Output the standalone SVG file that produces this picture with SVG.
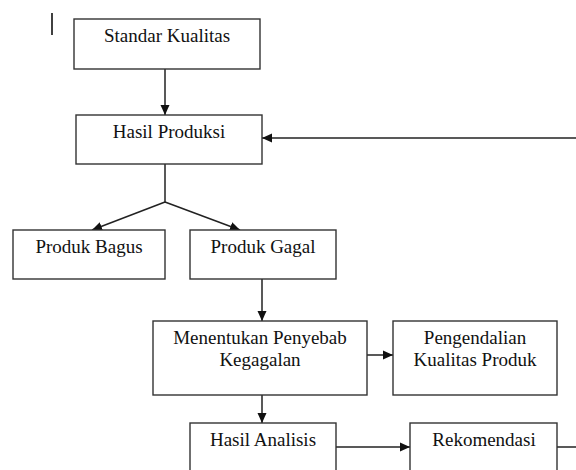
<svg xmlns="http://www.w3.org/2000/svg" width="576" height="470" viewBox="0 0 576 470">
<style>
.box{fill:#fff;stroke:#333;stroke-width:1.4}
.t{font-family:"Liberation Serif","Times New Roman",serif;font-size:19px;fill:#111;text-anchor:middle}
.c{fill:none;stroke:#222;stroke-width:1.5}
</style>
<defs>
<marker id="ah" markerUnits="userSpaceOnUse" markerWidth="10" markerHeight="10" refX="10" refY="5" orient="auto">
<path d="M0,0.5 L10,5 L0,9.5 z" fill="#111"/>
</marker>
</defs>
<rect width="576" height="470" fill="#fff"/>
<line x1="52" y1="13" x2="52" y2="35" stroke="#111" stroke-width="1.6"/>
<g id="connectors">
<line class="c" x1="165" y1="69" x2="165" y2="115" marker-end="url(#ah)"/>
<line class="c" x1="576" y1="138" x2="262" y2="138" marker-end="url(#ah)"/>
<polyline class="c" points="165,164 165,202"/>
<line class="c" x1="165" y1="202" x2="92" y2="230" marker-end="url(#ah)"/>
<line class="c" x1="165" y1="202" x2="240" y2="230" marker-end="url(#ah)"/>
<line class="c" x1="262" y1="279" x2="262" y2="321" marker-end="url(#ah)"/>
<line class="c" x1="367" y1="355" x2="393" y2="355" marker-end="url(#ah)"/>
<line class="c" x1="262" y1="395" x2="262" y2="423" marker-end="url(#ah)"/>
<line class="c" x1="336" y1="447" x2="410" y2="447" marker-end="url(#ah)"/>
<line class="c" x1="557" y1="447" x2="576" y2="447"/>
</g>
<g id="standar-kualitas">
<rect class="box" x="74" y="19" width="186" height="50"/>
<text class="t" x="167" y="42">Standar Kualitas</text>
</g>
<g id="hasil-produksi">
<rect class="box" x="76" y="115" width="186" height="49"/>
<text class="t" x="169" y="138">Hasil Produksi</text>
</g>
<g id="produk-bagus">
<rect class="box" x="13" y="230" width="152" height="49"/>
<text class="t" x="89" y="253">Produk Bagus</text>
</g>
<g id="produk-gagal">
<rect class="box" x="190" y="230" width="146" height="49"/>
<text class="t" x="263" y="253">Produk Gagal</text>
</g>
<g id="menentukan-penyebab">
<rect class="box" x="153" y="321" width="214" height="74"/>
<text class="t" x="260" y="344">Menentukan Penyebab</text>
<text class="t" x="260" y="366">Kegagalan</text>
</g>
<g id="pengendalian-kualitas">
<rect class="box" x="393" y="321" width="164" height="74"/>
<text class="t" x="475" y="344">Pengendalian</text>
<text class="t" x="475" y="366">Kualitas Produk</text>
</g>
<g id="hasil-analisis">
<rect class="box" x="190" y="423" width="146" height="60"/>
<text class="t" x="263" y="446">Hasil Analisis</text>
</g>
<g id="rekomendasi">
<rect class="box" x="410" y="423" width="147" height="60"/>
<text class="t" x="484" y="446">Rekomendasi</text>
</g>
</svg>
